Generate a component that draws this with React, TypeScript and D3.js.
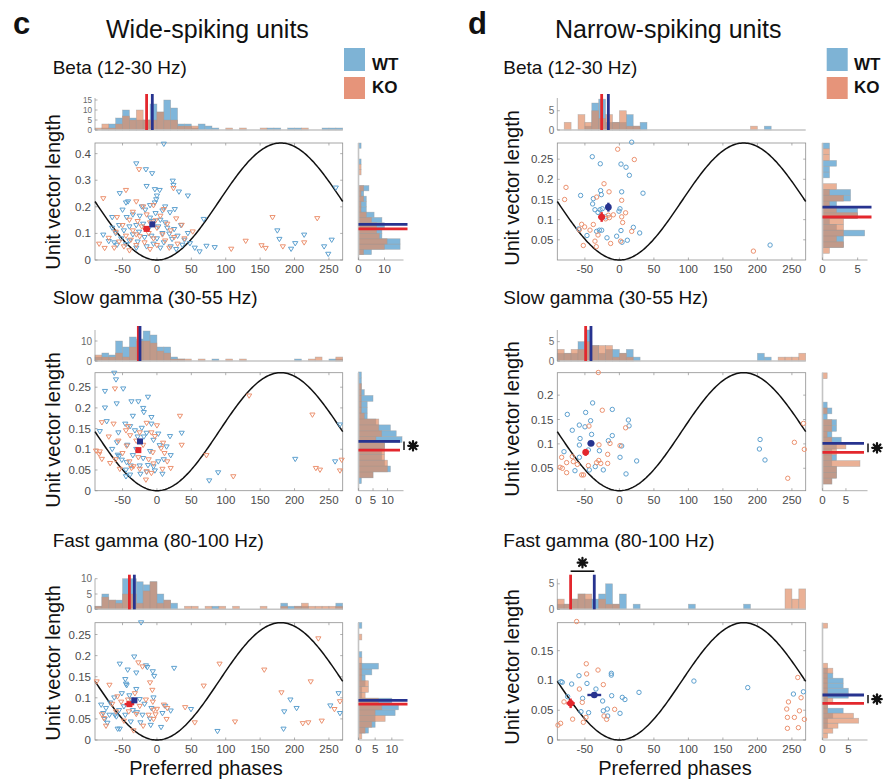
import React from "react";
import * as d3 from "d3";

// ---- data ----
// scatter points: [preferred phase (deg), unit vector length]
const betaWideWT = [[10,0.436],[-30,0.362],[-16,0.34],[-7,0.325],[23,0.297],[24,0.281],[-15,0.277],[-3,0.265],[4,0.262],[32,0.256],[-54,0.25],[45,0.241],[0,0.241],[-1,0.227],[-42,0.219],[-45,0.215],[-3,0.215],[26,0.19],[-50,0.188],[-17,0.188],[-65,0.16],[-44,0.16],[19,0.178],[68,0.153],[175,0.11],[178,0.078],[214,0.094],[201,0.062],[195,0.041],[254,0.075],[243,0.05],[249,0.022],[260,0.271],[84,0.047],[72,0.052],[62,0.031],[37,0.056],[-78,0.094],[-58,0.056],[-35,0.17],[-25,0.165],[-10,0.158],[5,0.15],[-5,0.145],[12,0.14],[-20,0.135],[-30,0.13],[-40,0.125],[2,0.125],[15,0.12],[-12,0.118],[25,0.115],[-48,0.11],[-26,0.105],[8,0.1],[18,0.098],[-60,0.1],[-35,0.095],[-8,0.09],[30,0.09],[-18,0.085],[0,0.08],[-52,0.08],[22,0.078],[-40,0.072],[-28,0.068],[10,0.065],[-5,0.06],[-45,0.058],[40,0.075],[-15,0.05],[20,0.05],[5,0.045],[-30,0.045],[28,0.04],[-62,0.065],[-70,0.07],[48,0.062],[55,0.045],[-22,0.2],[-10,0.205],[12,0.2],[-55,0.13],[-65,0.12],[35,0.13],[45,0.1],[-2,0.175],[8,0.185]];
const betaWideKO = [[-26,0.34],[-45,0.262],[-30,0.219],[-78,0.231],[24,0.269],[168,0.16],[233,0.156],[129,0.071],[108,0.041],[152,0.054],[158,0.044],[183,0.05],[214,0.065],[-84,0.06],[-76,0.044],[52,0.106],[36,0.131],[-20,0.2],[-5,0.205],[10,0.19],[-35,0.18],[-15,0.17],[5,0.165],[-40,0.15],[-28,0.145],[-10,0.14],[15,0.135],[-50,0.13],[-22,0.125],[0,0.12],[20,0.11],[-35,0.11],[-60,0.105],[-12,0.1],[8,0.095],[-45,0.09],[-25,0.088],[25,0.085],[-70,0.082],[-5,0.08],[-38,0.075],[12,0.072],[-55,0.068],[-18,0.065],[30,0.06],[-30,0.055],[0,0.055],[-48,0.05],[18,0.045],[-62,0.045],[-10,0.04],[-40,0.035],[-2,0.148],[28,0.155],[-58,0.16],[-30,0.095],[40,0.08]];

const slowWideWT = [[-62,0.284],[-59.5,0.268],[-75.5,0.24],[-49,0.246],[-13,0.226],[-27,0.215],[-37,0.215],[-58.5,0.21],[-75.5,0.2],[-20,0.199],[-19,0.189],[-35,0.18],[-8,0.177],[-73,0.167],[-46,0.161],[-39,0.155],[-22,0.151],[-8,0.161],[-83,0.143],[-56,0.14],[-32,0.145],[-15,0.139],[2,0.137],[36,0.139],[19,0.131],[-58,0.116],[-43,0.11],[-28,0.13],[-19,0.13],[-5,0.122],[4,0.109],[14,0.106],[20,0.085],[-57,0.086],[-55,0.083],[-51,0.074],[-44,0.068],[-38,0.06],[-25,0.06],[-13,0.061],[-5,0.058],[2,0.07],[-45,0.05],[-39,0.038],[-24,0.04],[-15,0.045],[-3,0.048],[-45,0.034],[8,0.04],[89,0.0435],[76,0.024],[201,0.076],[259,0.07],[266,0.159],[-30,0.1],[-10,0.095],[-35,0.085],[10,0.075],[-65,0.1],[-20,0.078]];
const slowWideKO = [[-61,0.246],[-80,0.1645],[-63,0.161],[-42,0.155],[-15,0.163],[0,0.157],[-83,0.094],[-88.5,0.096],[-56,0.12],[-39,0.133],[-44,0.108],[-8,0.14],[-3,0.131],[9,0.115],[11,0.09],[6,0.102],[-6,0.092],[-68,0.066],[-84,0.088],[-80,0.076],[-54,0.052],[-37,0.054],[-34,0.058],[-25,0.052],[-15,0.046],[-8,0.042],[8,0.052],[20,0.054],[-16,0.026],[36,0.11],[33.5,0.18],[72,0.085],[111,0.034],[134,0.229],[226,0.183],[231,0.054],[237,0.05],[266,0.048],[268.5,0.074],[-30,0.12],[-20,0.11],[-50,0.09],[-27,0.08],[-12,0.075],[-60,0.075],[-40,0.07],[-5,0.065],[15,0.07],[-45,0.145],[-25,0.14],[-70,0.13]];

const fastWideWT = [[-23,0.278],[-33,0.197],[-54,0.18],[-16,0.176],[-14,0.172],[-42.5,0.166],[-30,0.159],[-6,0.162],[25,0.17],[-46,0.1435],[-4,0.151],[-45,0.1325],[-44,0.129],[-51,0.11],[-37,0.095],[-25,0.096],[-68,0.088],[-81,0.083],[-74,0.075],[-78,0.063],[-61,0.059],[-46,0.059],[-48,0.079],[-35,0.07],[-29,0.065],[-21,0.059],[-8,0.075],[8,0.063],[20,0.069],[-76,0.049],[-59,0.055],[-38,0.043],[-24,0.041],[-9,0.035],[6,0.03],[-57,0.026],[-54,0.026],[49.5,0.0725],[88,0.0205],[184,0.026],[185,0.067],[194,0.095],[203,0.075],[252,0.081],[264,0.11],[266,0.063],[-69,0.059],[-30,0.12],[-18,0.085],[-5,0.1],[-62,0.1],[-40,0.105],[-10,0.05],[-72,0.04],[12,0.08],[-55,0.07]];
const fastWideKO = [[-87.6,0.138],[-69,0.13],[-57.5,0.1025],[-32,0.11],[-59.5,0.067],[-27,0.183],[-21,0.1735],[-10,0.1356],[-6.7,0.118],[-16,0.095],[-6,0.09],[-5,0.071],[0,0.073],[10,0.083],[15,0.075],[-77,0.051],[-74,0.033],[-34,0.022],[-20,0.033],[-5,0.049],[14,0.049],[-12,0.059],[-30,0.061],[-41,0.067],[41,0.077],[55,0.041],[68,0.128],[91,0.18],[113.5,0.043],[156,0.166],[181,0.112],[212,0.039],[220,0.041],[223.5,0.138],[234.6,0.24],[239.5,0.045],[258,0.0725],[266,0.091],[-80,0.06],[-65,0.085],[-48,0.045],[-25,0.08],[-42,0.095],[-52,0.09],[-2,0.06]];

const betaNarrowWT = [[17.8,0.292],[-39.3,0.256],[-27.7,0.2385],[2.3,0.2377],[9.6,0.23],[14.4,0.21],[-27.2,0.172],[-26.2,0.162],[3.3,0.169],[34.2,0.1656],[-56.2,0.16],[-37.8,0.152],[-38.8,0.139],[-35.4,0.1246],[-28.1,0.1246],[-24.8,0.127],[0.8,0.127],[-0.6,0.121],[-59,0.077],[-47,0.0607],[-33,0.071],[-29,0.0738],[-25.7,0.0738],[-18,0.055],[-4,0.059],[2.3,0.073],[20.2,0.081],[29.4,0.067],[11.5,0.049],[3.8,0.044],[218.4,0.037],[-31,0.118],[-20,0.107]];
const betaNarrowKO = [[-2.5,0.2746],[21.6,0.249],[-77.4,0.18],[-79.4,0.15],[-22.3,0.189],[-15,0.169],[-33,0.156],[3.3,0.148],[-16,0.111],[-14.5,0.105],[-8.8,0.112],[9,0.117],[3.3,0.107],[4.7,0.093],[-54.7,0.0885],[-50.4,0.082],[-58,0.075],[-37.8,0.088],[-42.6,0.074],[-31,0.062],[-35.4,0.0467],[-33.5,0.033],[-12.7,0.041],[1.8,0.0467],[17.8,0.071],[-52.3,0.036],[194.2,0.022],[-20,0.102]];

const slowNarrowWT = [[-38.8,0.184],[-10.3,0.1707],[-75.5,0.1605],[-48.9,0.1645],[-41.7,0.1475],[13,0.149],[14,0.137],[-58.1,0.1386],[-49.9,0.135],[-68.3,0.128],[-40.3,0.1195],[-10.3,0.117],[-57,0.111],[-16,0.1066],[-58,0.0977],[-80.3,0.084],[-45,0.0875],[-29,0.086],[3.3,0.0957],[0.9,0.0725],[-58,0.0725],[25,0.065],[-64.4,0.045],[-43.6,0.0466],[-35,0.0534],[-23.3,0.0466],[9.6,0.0384],[203.9,0.109],[202.9,0.0895],[211,0.067]];
const slowNarrowKO = [[-30.6,0.2464],[-24.8,0.169],[-44.1,0.1366],[9,0.133],[0.9,0.0964],[-29.6,0.098],[-13.6,0.101],[-83.7,0.0725],[-68.3,0.074],[-66.8,0.0636],[-76.5,0.0616],[-86,0.052],[-82.7,0.05],[-76.5,0.041],[-61,0.058],[-45,0.0555],[-33,0.0616],[-30,0.066],[-27,0.06],[-17,0.0786],[-17,0.06],[-54.7,0.0364],[-52,0.0364],[244,0.0295],[253.6,0.1032],[266.7,0.142],[268,0.0888]];

const fastNarrowWT = [[-84.7,0.098],[-82.8,0.097],[-69.2,0.094],[-75,0.0728],[-58.6,0.108],[-47,0.095],[-53.3,0.07],[-34,0.0856],[-24.3,0.0655],[-11.7,0.112],[-11.7,0.109],[-11.2,0.0744],[4.2,0.0716],[8,0.068],[28.4,0.08],[0.9,0.0448],[-55.7,0.0476],[-44.6,0.0459],[-23.3,0.049],[-17.5,0.052],[-17,0.0403],[108,0.099],[186,0.088],[252.2,0.0772],[266.7,0.081]];
const fastNarrowKO = [[-62,0.199],[-48,0.128],[-47.5,0.111],[-31,0.1175],[-58,0.0856],[-23.3,0.093],[-80.3,0.064],[-53.8,0.0632],[-67.8,0.035],[-52.3,0.0297],[-48.4,0.038],[-89,0.025],[-85.2,0.028],[-6.9,0.0515],[-22.3,0.0403],[-18.5,0.0347],[258.5,0.105],[263.3,0.071],[245,0.064],[242.5,0.052],[243.5,0.038],[253.6,0.038],[260.9,0.049],[268.1,0.0347],[243.5,0.0196],[259.4,0.0207]];

// phase histograms: counts per 10 deg bin, -90..270
const betaWideTopWT = [0,1,3,6,10,6,5,5,13,9,15,11,3,3,1,3,2,1,0,0,0,0,0,0,0,1,1,0,1,1,0,0,0,1,1,1];
const betaWideTopKO = [1,3,1,3,7,5,10,5,5,9,5,5,2,2,2,0,0,0,0,1,0,1,0,0,1,0,0,0,0,0,1,0,0,0,0,0];
const slowWideTopWT = [2,4,3,10,7,12,11,15,13,7,7,2,1,0,0,0,0,1,0,0,0,0,0,0,0,0,0,0,0,1,0,0,0,0,1,1];
const slowWideTopKO = [3,2,2,4,2,7,10,10,9,5,4,1,1,1,0,1,0,0,0,1,0,1,0,0,0,0,0,0,0,0,0,1,2,0,0,2];
const fastWideTopWT = [1,5,3,3,10,10,9,8,9,5,3,2,0,0,0,0,0,1,0,0,0,0,0,0,0,0,0,2,1,1,1,0,0,0,0,2];
const fastWideTopKO = [1,4,3,2,5,5,2,6,9,2,3,0,0,1,1,0,1,0,1,0,1,0,0,0,1,0,0,1,0,1,2,1,1,1,1,1];
const betaNarrowTopWT = [0,0,0,0,1,7,8,2,2,2,4,1,2,0,0,0,0,0,0,0,0,0,0,0,0,0,0,0,0,0,1,0,0,0,0,0];
const betaNarrowTopKO = [0,2,0,4,2,5,3,4,2,5,1,1,0,0,0,0,0,0,0,0,0,0,0,0,0,0,0,0,1,0,0,0,0,0,0,0];
const slowNarrowTopWT = [2,2,2,5,8,4,2,3,3,2,3,1,0,0,0,0,0,0,0,0,0,0,0,0,0,0,0,0,0,2,1,0,0,0,0,0];
const slowNarrowTopKO = [3,2,3,3,5,4,4,4,1,2,1,0,0,0,0,0,0,0,0,0,0,0,0,0,0,0,0,0,0,0,0,0,1,1,1,2];
const fastNarrowTopWT = [1,1,2,3,2,2,3,5,1,3,0,1,0,0,0,0,0,0,0,1,0,0,0,0,0,0,0,1,0,0,0,0,0,0,0,0];
const fastNarrowTopKO = [2,1,2,3,3,0,2,1,1,0,0,0,0,0,0,0,0,0,0,0,0,0,0,0,0,0,0,0,0,0,0,0,0,4,2,4];

// vector length histograms, bottom bin first
const betaWideRightWT = [5,16,16,9,9,10,9,6,3,3,3,2,4,0,0,0,0,1,0,0,1];
const betaWideRightKO = [2,10,11,8,7,7,5,3,1,1,2,1,2,0,0,1,1,0,0,0,0];
const slowWideRightWT = [1,5,11,9,8,8,9,15,13,11,6,3,3,3,5,2,1,1,1];
const slowWideRightKO = [0,5,10,10,9,9,9,6,8,7,7,2,1,1,1,1,1,0,0];
const fastWideRightWT = [0,3,5,5,11,12,10,1,1,2,2,4,6,0,1,0,0,0,0,1];
const fastWideRightKO = [1,2,4,8,5,7,6,2,3,3,1,1,1,1,0,0,0,1,0,0];
const betaNarrowRightWT = [0,3,3,6,2,1,5,5,2,4,4,0,0,1,1,2,0,0,1];
const betaNarrowRightKO = [1,3,2,3,3,3,5,2,1,3,1,2,0,0,0,0,1,1,0];
const slowNarrowRightWT = [2,3,3,2,3,2,3,4,2,3,3,1,2,1,0,0,0,0,0];
const slowNarrowRightKO = [2,3,3,8,2,3,5,2,1,2,2,0,1,0,0,0,0,0,1];
const fastNarrowRightWT = [0,0,1,1,2,4,1,1,5,5,4,4,2,1,0,0,0,0,0,0,0,0,0];
const fastNarrowRightKO = [1,2,3,7,6,1,1,2,1,1,1,1,1,2,1,0,0,0,0,0,0,0,1];

// means: [phase, length, phase err, length err]
const meansWT = [[-6.7,0.134,3,0.006],[-24.6,0.119,2,0.005],[-32.8,0.094,4,0.004],[-16,0.131,4,0.011],[-41.2,0.101,5,0.004],[-36.4,0.0756,10,0.003]];
const meansKO = [[-15,0.117,5,0.006],[-27,0.098,3,0.004],[-40,0.085,7,0.004],[-25.7,0.1066,5,0.012],[-48.9,0.0827,4,0.007],[-70.7,0.0616,6,0.008]];

const bandTitles = ["Beta (12-30 Hz)", "Slow gamma (30-55 Hz)", "Fast gamma (80-100 Hz)"];
const phaseTicks = [-50, 0, 50, 100, 150, 200, 250];

// ---- styling ----
const FONT = "'Liberation Sans', Arial, Helvetica, sans-serif";
const WT_MARK = "#5da0cf";
const KO_MARK = "#ec9270";
const WT_HIST = "#80b6da";
const KO_HIST = "#e08c64";
const MEAN_WT = "#27338f";
const MEAN_KO = "#e3272d";
const AXIS = "#8f8f8f";
const TICK_TXT = "#4a4a4a";
const RW = 45;

const columns = [
  { sx0: 95, sx1: 342.7, rx0: 358.5, labelX: 53, subX: 52.7 },
  { sx0: 557.3, sx1: 805.7, rx0: 822.5, labelX: 512, subX: 503.3 },
];
const rows = [
  { subY: 74, th0: 98, th1: 130, sy0: 143, sy1: 260, labelY: [192, 188] },
  { subY: 304, th0: 330, th1: 361, sy0: 372.7, sy1: 490.7, labelY: [430, 419] },
  { subY: 547, th0: 578.7, th1: 609.3, sy0: 622.7, sy1: 740, labelY: [663, 667] },
];

type Spec = {
  col: number; row: number; shape: "tri" | "circ";
  wt: number[][]; ko: number[][];
  topWT: number[]; topKO: number[]; topMax: number; topTicks: number[];
  rStart: number; rW: number; rWT: number[]; rKO: number[]; rMax: number; rTicks: number[];
  yDomain: [number, number]; yTicks: number[];
  sigRight?: boolean; sigTop?: boolean;
};

const panels: Spec[] = [
  { col: 0, row: 0, shape: "tri", wt: betaWideWT, ko: betaWideKO, topWT: betaWideTopWT, topKO: betaWideTopKO, topMax: 16, topTicks: [0, 5, 10, 15],
    rStart: 0.02, rW: 0.02, rWT: betaWideRightWT, rKO: betaWideRightKO, rMax: 17.3, rTicks: [0, 10], yDomain: [0, 0.44], yTicks: [0, 0.1, 0.2, 0.3, 0.4] },
  { col: 0, row: 1, shape: "tri", wt: slowWideWT, ko: slowWideKO, topWT: slowWideTopWT, topKO: slowWideTopKO, topMax: 15.5, topTicks: [0, 10],
    rStart: 0.017, rW: 0.0142, rWT: slowWideRightWT, rKO: slowWideRightKO, rMax: 15.5, rTicks: [0, 5, 10], yDomain: [0, 0.285], yTicks: [0, 0.05, 0.1, 0.15, 0.2, 0.25], sigRight: true },
  { col: 0, row: 2, shape: "tri", wt: fastWideWT, ko: fastWideKO, topWT: fastWideTopWT, topKO: fastWideTopKO, topMax: 10, topTicks: [0, 5, 10],
    rStart: 0.0025, rW: 0.0138, rWT: fastWideRightWT, rKO: fastWideRightKO, rMax: 13.5, rTicks: [0, 5, 10], yDomain: [0, 0.278], yTicks: [0, 0.05, 0.1, 0.15, 0.2, 0.25] },
  { col: 1, row: 0, shape: "circ", wt: betaNarrowWT, ko: betaNarrowKO, topWT: betaNarrowTopWT, topKO: betaNarrowTopKO, topMax: 8.3, topTicks: [0, 5],
    rStart: 0.0164, rW: 0.0144, rWT: betaNarrowRightWT, rKO: betaNarrowRightKO, rMax: 6.4, rTicks: [0, 5], yDomain: [0, 0.29], yTicks: [0.05, 0.1, 0.15, 0.2, 0.25] },
  { col: 1, row: 1, shape: "circ", wt: slowNarrowWT, ko: slowNarrowKO, topWT: slowNarrowTopWT, topKO: slowNarrowTopKO, topMax: 8, topTicks: [0, 5],
    rStart: 0.0177, rW: 0.012, rWT: slowNarrowRightWT, rKO: slowNarrowRightKO, rMax: 9.6, rTicks: [0, 5], yDomain: [0.004, 0.246], yTicks: [0.05, 0.1, 0.15, 0.2], sigRight: true },
  { col: 1, row: 2, shape: "circ", wt: fastNarrowWT, ko: fastNarrowKO, topWT: fastNarrowTopWT, topKO: fastNarrowTopKO, topMax: 6, topTicks: [0, 5],
    rStart: 0.003, rW: 0.0084, rWT: fastNarrowRightWT, rKO: fastNarrowRightKO, rMax: 8.7, rTicks: [0, 5], yDomain: [0, 0.197], yTicks: [0, 0.05, 0.1, 0.15], sigRight: true, sigTop: true },
];

const fmt = (v: number) => String(+v.toFixed(3));

function Star({ cx, cy }: { cx: number; cy: number }) {
  const r = 4.8;
  return (
    <g stroke="#111" strokeWidth={2.2} strokeLinecap="round">
      {[0, 45, 90, 135].map((a) => {
        const t = (a * Math.PI) / 180;
        return <line key={a} x1={cx - r * Math.cos(t)} y1={cy - r * Math.sin(t)} x2={cx + r * Math.cos(t)} y2={cy + r * Math.sin(t)} />;
      })}
      <circle cx={cx} cy={cy} r={2.9} fill="#111" stroke="none" />
    </g>
  );
}

function Panel({ p, idx }: { p: Spec; idx: number }) {
  const c = columns[p.col];
  const r = rows[p.row];
  const x = d3.scaleLinear().domain([-90, 270]).range([c.sx0, c.sx1]);
  const y = d3.scaleLinear().domain(p.yDomain).range([r.sy1, r.sy0]);
  const yTop = d3.scaleLinear().domain([0, p.topMax]).range([r.th1, r.th0]);
  const xR = d3.scaleLinear().domain([0, p.rMax]).range([c.rx0, c.rx0 + RW]);
  const bw = x(10) - x(0);
  const [y0, y1] = p.yDomain;
  const wave = d3.range(-90, 271, 2).map(
    (d) => [x(d), y(y0 + ((y1 - y0) * (1 - Math.cos((d * Math.PI) / 180))) / 2)] as [number, number]
  );
  const mWT = meansWT[idx];
  const mKO = meansKO[idx];
  // tick labels of the small histogram sit close together in the top-left panel
  const tickGap = Math.abs(yTop(p.topTicks[1]) - yTop(p.topTicks[0]));
  const topFont = Math.min(10, tickGap * 0.82);

  const marker = (d: number[], color: string, k: number) => {
    const px = x(d[0]);
    const py = y(d[1]);
    if (p.shape === "tri")
      return <path key={k} d={`M${px - 2.6},${py - 1.9}L${px + 2.6},${py - 1.9}L${px},${py + 2.4}Z`} fill="none" stroke={color} strokeWidth={1} />;
    return <circle key={k} cx={px} cy={py} r={2.2} fill="none" stroke={color} strokeWidth={1} />;
  };

  const topBars = (counts: number[], fill: string, op: number) =>
    counts.map((n, i) =>
      n > 0 ? (
        <rect key={i} x={x(-90 + 10 * i)} y={yTop(n)} width={bw} height={r.th1 - yTop(n)} fill={fill} fillOpacity={op} stroke="#9c9c9c" strokeOpacity={0.6} strokeWidth={0.6} />
      ) : null
    );
  const rightBars = (counts: number[], fill: string, op: number) =>
    counts.map((n, k) => {
      if (n <= 0) return null;
      const a = y(p.rStart + k * p.rW);
      const b = y(p.rStart + (k + 1) * p.rW);
      return <rect key={k} x={c.rx0} y={b} width={xR(n) - c.rx0} height={a - b} fill={fill} fillOpacity={op} stroke="#9c9c9c" strokeOpacity={0.6} strokeWidth={0.6} />;
    });

  const meanMark = (m: number[], color: string) => {
    const px = x(m[0]);
    const py = y(m[1]);
    return (
      <g>
        <line x1={x(m[0] - m[2])} x2={x(m[0] + m[2])} y1={py} y2={py} stroke={color} strokeWidth={2.4} />
        <line x1={px} x2={px} y1={y(m[1] - m[3])} y2={y(m[1] + m[3])} stroke={color} strokeWidth={2.4} />
        {p.shape === "tri" ? (
          <rect x={px - 3} y={py - 3} width={6} height={6} fill={color} />
        ) : (
          <circle cx={px} cy={py} r={3.3} fill={color} />
        )}
      </g>
    );
  };

  const lineEnd = c.rx0 + (p.sigRight ? 41.5 : 49);

  return (
    <g>
      <text x={c.subX} y={r.subY} fontSize={19} fill="#111">{bandTitles[p.row]}</text>
      <text transform={`translate(${c.labelX},${r.labelY[p.col]}) rotate(-90)`} textAnchor="middle" dominantBaseline="central" fontSize={20} fill="#111">
        Unit vector length
      </text>

      {/* phase histogram */}
      {topBars(p.topWT, WT_HIST, 1)}
      {topBars(p.topKO, KO_HIST, 0.68)}
      <line x1={c.sx0} x2={c.sx1} y1={r.th1} y2={r.th1} stroke="#c4c4c4" strokeWidth={1.6} />
      <line x1={c.sx0} x2={c.sx0} y1={r.th1} y2={r.th0} stroke={AXIS} strokeWidth={0.7} />
      {p.topTicks.map((t) => (
        <g key={t}>
          <line x1={c.sx0} x2={c.sx0 + 2.5} y1={yTop(t)} y2={yTop(t)} stroke={AXIS} strokeWidth={0.7} />
          <text x={c.sx0 - 3} y={yTop(t)} dy="0.35em" textAnchor="end" fontSize={topFont} fill="#6a6a6a">{t}</text>
        </g>
      ))}
      <line x1={x(mKO[0])} x2={x(mKO[0])} y1={r.th1} y2={r.th0 - 4} stroke={MEAN_KO} strokeWidth={2.8} />
      <line x1={x(mWT[0])} x2={x(mWT[0])} y1={r.th1} y2={r.th0 - 4} stroke={MEAN_WT} strokeWidth={2.8} />
      {p.sigTop && (
        <g>
          <line x1={x(mKO[0])} x2={x(mWT[0])} y1={r.th0 - 7.5} y2={r.th0 - 7.5} stroke="#111" strokeWidth={1.6} />
          <Star cx={(x(mKO[0]) + x(mWT[0])) / 2} cy={r.th0 - 16} />
        </g>
      )}

      {/* scatter */}
      <rect x={c.sx0} y={r.sy0} width={c.sx1 - c.sx0} height={r.sy1 - r.sy0} fill="none" stroke={AXIS} strokeWidth={0.8} />
      {p.yTicks.map((t) => (
        <g key={t}>
          <line x1={c.sx0} x2={c.sx0 + 2.5} y1={y(t)} y2={y(t)} stroke={AXIS} strokeWidth={0.7} />
          <line x1={c.sx1} x2={c.sx1 - 2.5} y1={y(t)} y2={y(t)} stroke={AXIS} strokeWidth={0.7} />
          <text x={c.sx0 - 4} y={y(t)} dy="0.35em" textAnchor="end" fontSize={11.5} fill={TICK_TXT}>{fmt(t)}</text>
        </g>
      ))}
      {phaseTicks.map((t) => (
        <g key={t}>
          <line x1={x(t)} x2={x(t)} y1={r.sy1} y2={r.sy1 - 2.5} stroke={AXIS} strokeWidth={0.7} />
          <line x1={x(t)} x2={x(t)} y1={r.sy0} y2={r.sy0 + 2.5} stroke={AXIS} strokeWidth={0.7} />
          <text x={x(t)} y={r.sy1 + 13} textAnchor="middle" fontSize={11.5} fill={TICK_TXT}>{t}</text>
        </g>
      ))}
      <path d={d3.line()(wave) ?? ""} fill="none" stroke="#111" strokeWidth={1.5} />
      {p.wt.map((d, k) => marker(d, WT_MARK, k))}
      {p.ko.map((d, k) => marker(d, KO_MARK, k + 1000))}
      {meanMark(mKO, MEAN_KO)}
      {meanMark(mWT, MEAN_WT)}

      {/* length histogram */}
      {rightBars(p.rWT, WT_HIST, 1)}
      {rightBars(p.rKO, KO_HIST, 0.68)}
      <line x1={c.rx0} x2={c.rx0} y1={r.sy0} y2={r.sy1} stroke="#c4c4c4" strokeWidth={1.6} />
      <line x1={c.rx0} x2={c.rx0 + RW} y1={r.sy1} y2={r.sy1} stroke={AXIS} strokeWidth={0.7} />
      {p.rTicks.map((t) => (
        <g key={t}>
          <line x1={xR(t)} x2={xR(t)} y1={r.sy1} y2={r.sy1 - 2.5} stroke={AXIS} strokeWidth={0.7} />
          <text x={xR(t)} y={r.sy1 + 13} textAnchor="middle" fontSize={11.5} fill={TICK_TXT}>{t}</text>
        </g>
      ))}
      <line x1={c.rx0} x2={lineEnd} y1={y(mWT[1])} y2={y(mWT[1])} stroke={MEAN_WT} strokeWidth={2.8} />
      <line x1={c.rx0} x2={lineEnd} y1={y(mKO[1])} y2={y(mKO[1])} stroke={MEAN_KO} strokeWidth={2.8} />
      {p.sigRight && (
        <g>
          <line x1={c.rx0 + 45.5} x2={c.rx0 + 45.5} y1={y(mWT[1])} y2={y(mKO[1])} stroke="#111" strokeWidth={1.5} />
          <Star cx={c.rx0 + 54.5} cy={(y(mWT[1]) + y(mKO[1])) / 2} />
        </g>
      )}
    </g>
  );
}

export default function App() {
  return (
    <svg width={885} height={780} style={{ position: "absolute", left: 0, top: 0, background: "#fff" }} fontFamily={FONT}>
      <rect width={885} height={780} fill="#fff" />
      <text x={13} y={34} fontSize={31} fontWeight="bold" fill="#111">c</text>
      <text x={468} y={34} fontSize={31} fontWeight="bold" fill="#111">d</text>
      <text x={106} y={38} fontSize={25} fill="#111">Wide-spiking units</text>
      <text x={555} y={38} fontSize={25} fill="#111">Narrow-spiking units</text>

      {[{ x: 344, t: 372 }, { x: 826.7, t: 854 }].map((l, i) => (
        <g key={i}>
          <rect x={l.x} y={48} width={21} height={23} fill="#7eb3d5" />
          <rect x={l.x} y={77} width={21} height={22} fill="#e6947a" />
          <text x={l.t} y={70} fontSize={17} fontWeight="bold" fill="#111">WT</text>
          <text x={l.t} y={93} fontSize={17} fontWeight="bold" fill="#111">KO</text>
        </g>
      ))}

      {panels.map((p, i) => (
        <Panel key={i} p={p} idx={i} />
      ))}

      <text x={206} y={775} textAnchor="middle" fontSize={20} fill="#111">Preferred phases</text>
      <text x={675} y={775} textAnchor="middle" fontSize={20} fill="#111">Preferred phases</text>
    </svg>
  );
}
